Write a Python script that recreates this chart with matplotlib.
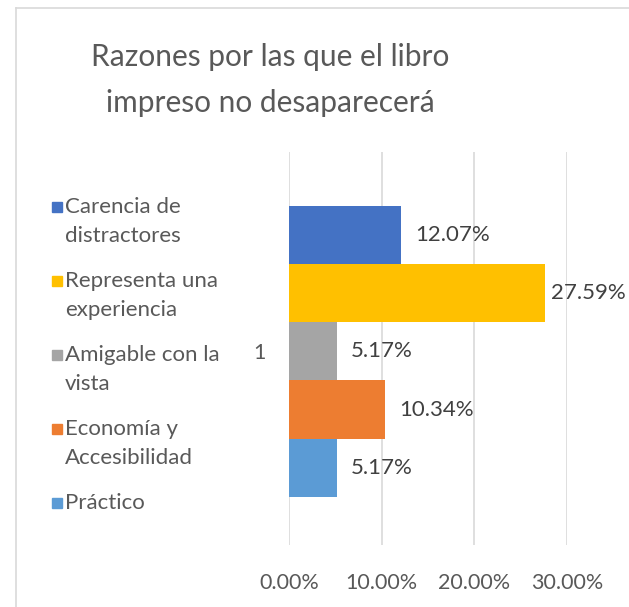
import matplotlib
matplotlib.use("Agg")
from matplotlib import pyplot as plt
from matplotlib.lines import Line2D
from matplotlib.patches import Rectangle

title = "Razones por las que el libro\nimpreso no desaparecerá"
series = ["Carencia de\ndistractores", "Representa una\nexperiencia",
          "Amigable con la\nvista", "Economía y\nAccesibilidad", "Práctico"]
values = [12.07, 27.59, 5.17, 10.34, 5.17]
colors = ["#4472C4", "#FFC000", "#A5A5A5", "#ED7D31", "#5B9BD5"]
category = "1"
xticks = [0, 10, 20, 30]

plt.rcParams['font.family'] = ['Lato', 'DejaVu Sans']

W, H = 629, 607
fig = plt.figure(figsize=(W / 100, H / 100), dpi=100)

# chart frame (only left/top edges visible in the crop)
fig.add_artist(Line2D([15.5 / W, 15.5 / W], [0, 1 - 7.5 / H], color="#d9d9d9", lw=1.2))
fig.add_artist(Line2D([15.5 / W, 1], [1 - 7.5 / H, 1 - 7.5 / H], color="#d9d9d9", lw=1.2))

ax = fig.add_axes([289 / W, 1 - 545 / H, (567 - 289) / W, (545 - 152) / H])

pos = [i - 2 for i in range(len(values))]
bars = ax.barh(pos, values, height=1.0, color=colors)
ax.set_ylim(3.33, -3.43)
ax.set_xlim(0, 30)

ax.set_xticks(xticks)
ax.set_xticklabels([f"{t:.2f}%" for t in xticks], fontsize=15.5, color="#595959")
ax.tick_params(axis='x', length=0, pad=20)
ax.set_yticks([0])
ax.set_yticklabels([category], fontsize=15.5, color="#595959")
ax.tick_params(axis='y', length=0, pad=17)
ax.grid(axis='x', color="#d9d9d9", lw=1.2)
ax.set_axisbelow(True)
for s in ax.spines.values():
    s.set_visible(False)

off = 10
labels = []
for b, v in zip(bars, values):
    t = ax.annotate(f"{v:.2f}%", (v, b.get_y() + b.get_height() / 2),
                    xytext=(off, 0), textcoords="offset points",
                    ha="left", va="center", fontsize=16, color="#404040")
    labels.append(t)

# keep labels inside the chart area, as Excel does
fig.canvas.draw()
r = fig.canvas.get_renderer()
for t in labels:
    bb = t.get_window_extent(r)
    if bb.x1 > W - 3:
        dx = (bb.x1 - (W - 3)) * 72 / fig.dpi
        t.set_position((off - dx, 0))

for k, line in enumerate(title.split("\n")):
    fig.text(270 / W, 1 - (57 + 46 * k) / H, line, ha="center", va="center",
             fontsize=21.5, color="#595959")

# legend on the left
for i, (lab, c) in enumerate(zip(series, colors)):
    base = 213 + 74 * i
    fig.add_artist(Rectangle((52 / W, 1 - (base - 1) / H), 10 / W, 10 / H,
                             color=c, transform=fig.transFigure))
    for j, line in enumerate(lab.split("\n")):
        fig.text(65 / W, 1 - (base + 29 * j) / H, line, ha="left", va="baseline",
                 fontsize=16, color="#595959")

fig.savefig("out.png", dpi=100)
